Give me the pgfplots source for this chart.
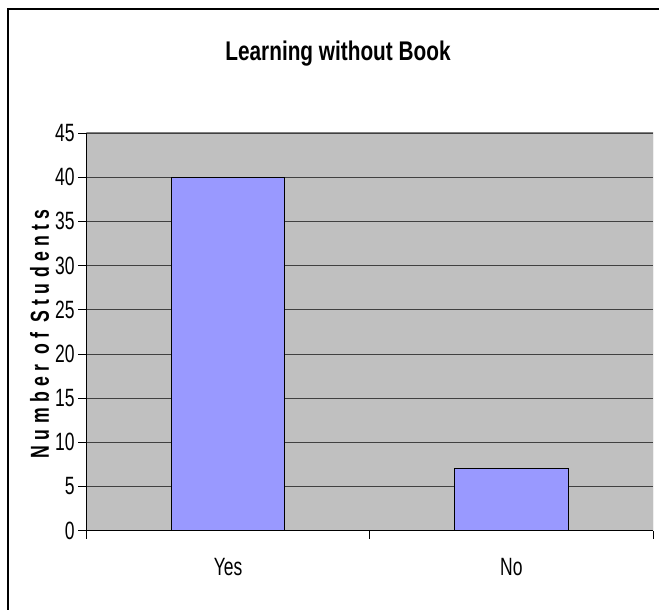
\documentclass[border=0pt]{standalone}
\usepackage{pgfplots}
\pgfplotsset{compat=1.18}
\usepackage{fontspec}
\setmainfont{Liberation Sans}
\newfontfamily\spacedbold[LetterSpace=30]{Liberation Sans Bold}
\definecolor{plotgray}{HTML}{C0C0C0}
\definecolor{barblue}{HTML}{9999FF}
\definecolor{framegray}{HTML}{808080}
\begin{document}
\begin{tikzpicture}[x=1pt,y=1pt]
\useasboundingbox (0,0) rectangle (659,610);
% chart frame (top and left edges)
\draw[line width=2pt] (8,0) -- (8,601) -- (659,601);
\node[font=\bfseries\fontsize{27}{29}\selectfont, xscale=0.77] at (338,556) {Learning without Book};
\begin{axis}[
  at={(86.5pt,79.3pt)}, anchor=south west,
  scale only axis, width=566.5pt, height=397.7pt,
  xmin=0, xmax=2, ymin=0, ymax=45,
  axis background/.style={fill=plotgray},
  axis x line*=bottom, axis y line*=left,
  axis line style={black, line width=1pt},
  x axis line style={-, line width=1.5pt}, y axis line style={-},
  ytick={0,5,...,45},
  ymajorgrids, grid style={black!75, line width=0.8pt},
  xtick={0,1,2}, xticklabels={},
  extra x ticks={0.5,1.5},
  extra x tick labels={Yes,No},
  extra x tick style={major tick length=0pt, grid=none},
  tick align=outside, major tick length=8pt,
  tick style={black, line width=0.8pt},
  /pgf/number format/assume math mode=true,
  tick label style={font=\fontsize{25}{27}\selectfont, xscale=0.7},
  yticklabel style={xshift=-2pt},
  xticklabel style={yshift=-24pt},
  ylabel={\fontsize{26}{28}\selectfont\spacedbold Number of Students},
  ylabel style={at={(axis description cs:-0.083,0.495)}, anchor=center, xscale=0.68},
]
\addplot[ybar, bar width=0.4, fill=barblue, draw=black, line width=1pt]
  coordinates {(0.5,40) (1.5,7)};
\draw[framegray, line width=1pt] (rel axis cs:0,1) -- (rel axis cs:1,1) -- (rel axis cs:1,0);
\end{axis}
\end{tikzpicture}
\end{document}
